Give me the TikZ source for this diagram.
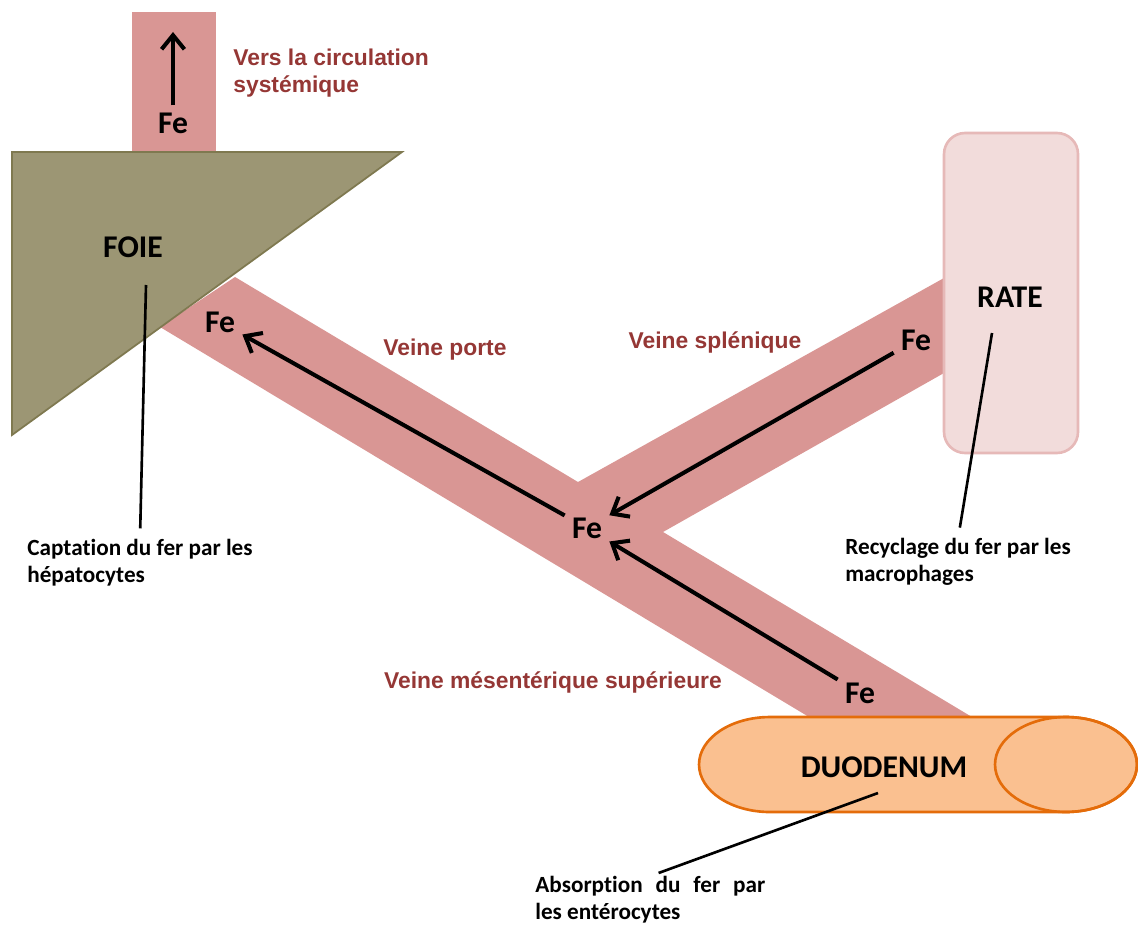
\documentclass[tikz,border=0pt]{standalone}
\usepackage{fontspec}
\setmainfont{Carlito}[Ligatures=NoCommon]
\newfontfamily\labelfont{Liberation Sans}
\usepackage{tikz}
\usetikzlibrary{arrows.meta, positioning, calc}
\definecolor{vein}{HTML}{D99694}
\definecolor{liver}{HTML}{9C9674}
\definecolor{liverline}{HTML}{7F7950}
\definecolor{spleen}{HTML}{F2DCDB}
\definecolor{spleenline}{HTML}{E6B9B8}
\definecolor{gut}{HTML}{FAC090}
\definecolor{gutline}{HTML}{E46C0A}
\definecolor{veinlabel}{HTML}{953735}

\begin{document}
\begin{tikzpicture}[x=0.02cm, y=-0.02cm,
    fe/.style={font=\fontsize{18}{20}\selectfont\bfseries, inner sep=4pt},
    organ/.style={font=\fontsize{18}{20}\selectfont\bfseries},
    vlabel/.style={font=\labelfont\bfseries\fontsize{13}{15}\selectfont, text=veinlabel, align=left, inner sep=0pt},
    caption/.style={font=\bfseries\fontsize{13.2}{15.5}\selectfont, inner sep=0pt},
    flow/.style={-{Straight Barb[length=8pt, width=13pt]}, line width=2.3pt},
    pointer/.style={line width=1.5pt}]
  \useasboundingbox (0,0) rectangle (1138,926);
  \fill[vein] (132,12) rectangle (216,152);
  \fill[vein] (160,327) -- (235,277) -- (578,482) -- (944,278) -- (944,373)
    -- (663,532) -- (972,717) -- (809,717) -- cycle;
  \filldraw[fill=liver, draw=liverline, line width=1pt] (12,152) -- (402,152) -- (12,435) -- cycle;
  \filldraw[fill=spleen, draw=spleenline, line width=1.5pt, rounded corners=12pt] (944,133) rectangle (1078,453);
  \filldraw[fill=gut, draw=gutline, line width=1.5pt] (770,717) -- (1066,717)
    arc[start angle=90, end angle=-90, x radius=1.42cm, y radius=0.95cm] -- (770,812)
    arc[start angle=270, end angle=90, x radius=1.42cm, y radius=0.95cm] -- cycle;
  \draw[gutline, line width=1.5pt] (1066,764.5) ellipse [x radius=1.42cm, y radius=0.95cm];

  \node[fe] (feV) at (173,123) {Fe};
  \coordinate (vtop) at (173,32);
  \node[organ] (foie) at (133,247) {FOIE};
  \node[organ] (rate) at (1010,297) {RATE};
  \node[organ] (duo) at (884,767) {DUODENUM};
  \node[fe] (feP) at (220,322) {Fe};
  \node[fe] (feJ) at (587,528) {Fe};
  \node[fe] (feS) at (916,340) {Fe};
  \node[fe] (feD) at (860,693) {Fe};

  \node[vlabel, anchor=west] (sys) at (233,73) {Vers la circulation\\systémique};
  \node[vlabel] (vporte) at (445,350) {Veine porte};
  \node[vlabel] (vspl) at (715,342) {Veine splénique};
  \node[vlabel] (vmes) at (553,682) {Veine mésentérique supérieure};

  \node[caption, align=left, anchor=north west] (capF) at (27,539) {Captation du fer par les\\hépatocytes};
  \node[caption, align=left, anchor=north west] (capR) at (845,538) {Recyclage du fer par les\\macrophages};
  \node[caption, text width=4.6cm, align=justify, anchor=north west] (capD) at (535,876) {Absorption du fer par les entérocytes};

  \draw[flow] (feV) -- (vtop);
  \draw[flow] (feS) -- (feJ);
  \draw[flow] (feJ) -- (feP);
  \draw[flow] (feD) -- (feJ);

  \coordinate (inF) at (146,285);
  \coordinate (inR) at (992,333);
  \coordinate (inD) at (878,793);
  \draw[pointer, shorten >=6pt] (inF) -- (capF.north);
  \draw[pointer, shorten >=6pt] (inR) -- (capR.north);
  \draw[pointer, shorten >=5pt] (inD) -- (capD.north);
\end{tikzpicture}
\end{document}
